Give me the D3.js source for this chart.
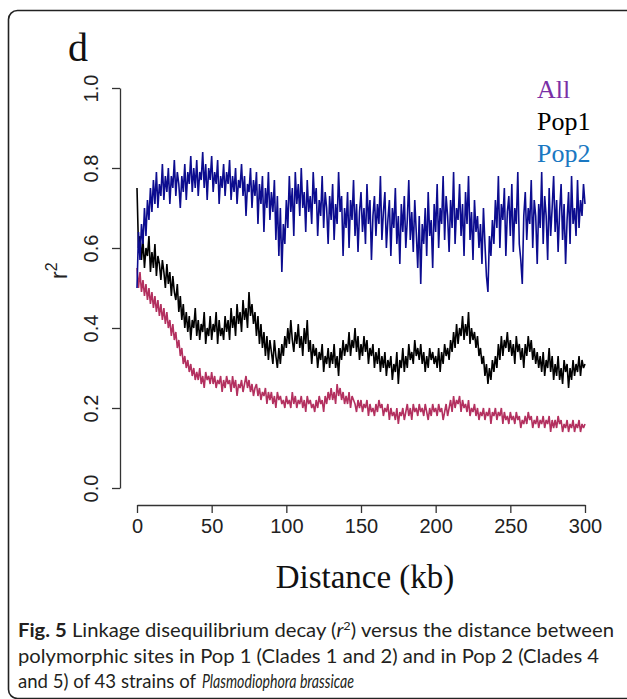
<!DOCTYPE html>
<html>
<head>
<meta charset="utf-8">
<script src="https://cdn.jsdelivr.net/npm/d3@7"></script>
<style>
  html, body { margin: 0; padding: 0; background: #fff; }
  svg { display: block; }
</style>
</head>
<body>
<svg id="chart" width="627" height="699"></svg>
<script>
// ---------------- data ----------------
// distance bins, 1 kb apart, 0..300 kb
const distanceKb = d3.range(0, 301);

// r^2 per 1-kb bin
const r2Pop2 = [
.50,.64,.57,.66,.61,.70,.63,.72,.67,.75,
.69,.77,.71,.79,.70,.76,.73,.81,.72,.78,
.74,.80,.71,.78,.75,.82,.73,.79,.76,.70,
.78,.74,.81,.72,.79,.76,.83,.74,.80,.75,
.82,.73,.79,.77,.84,.75,.81,.72,.80,.77,
.83,.74,.79,.76,.82,.71,.78,.75,.81,.73,
.79,.76,.82,.72,.78,.74,.80,.71,.77,.75,
.81,.73,.78,.68,.76,.74,.80,.70,.77,.73,
.79,.66,.76,.71,.78,.64,.75,.70,.79,.67,
.74,.69,.77,.62,.73,.58,.70,.54,.66,.61,
.72,.65,.78,.69,.75,.63,.79,.71,.76,.68,
.80,.70,.74,.64,.77,.69,.73,.66,.79,.71,
.75,.63,.72,.68,.78,.65,.74,.70,.61,.73,
.67,.76,.62,.71,.66,.79,.69,.73,.58,.70,
.65,.74,.60,.72,.67,.77,.63,.71,.59,.69,
.74,.64,.70,.61,.76,.66,.72,.57,.68,.73,
.63,.71,.66,.78,.62,.69,.74,.60,.67,.72,
.58,.70,.65,.75,.61,.68,.56,.71,.64,.73,
.60,.67,.77,.62,.69,.59,.72,.64,.55,.68,
.51,.66,.61,.70,.58,.74,.63,.67,.55,.71,
.64,.76,.60,.70,.66,.78,.62,.73,.68,.59,
.72,.65,.79,.61,.70,.67,.76,.63,.71,.58,
.74,.66,.78,.62,.69,.57,.72,.64,.68,.60,
.66,.56,.70,.61,.53,.49,.63,.58,.67,.61,
.72,.65,.78,.60,.71,.67,.75,.58,.69,.73,
.63,.76,.59,.70,.66,.79,.61,.57,.51,.68,
.74,.62,.70,.66,.77,.60,.72,.68,.56,.71,
.65,.79,.61,.73,.68,.57,.75,.63,.70,.78,
.64,.72,.59,.69,.76,.62,.71,.56,.67,.74,
.61,.78,.66,.70,.63,.77,.65,.72,.68,.76,
.71];

const r2Pop1 = [
.75,.60,.63,.57,.62,.55,.60,.58,.63,.54,
.59,.55,.61,.53,.58,.56,.52,.57,.54,.50,
.56,.51,.54,.48,.53,.49,.47,.51,.44,.48,
.42,.46,.40,.44,.39,.43,.37,.42,.40,.45,
.38,.42,.37,.41,.39,.44,.36,.40,.38,.43,
.37,.41,.39,.44,.36,.42,.38,.40,.37,.43,
.39,.42,.37,.45,.40,.43,.38,.46,.41,.44,
.39,.47,.42,.45,.40,.49,.43,.46,.41,.44,
.38,.43,.36,.41,.35,.39,.33,.38,.32,.37,
.34,.31,.37,.33,.30,.35,.31,.36,.33,.38,
.35,.40,.36,.42,.37,.34,.39,.36,.41,.35,
.38,.33,.40,.36,.42,.34,.37,.31,.36,.33,
.35,.30,.34,.32,.36,.29,.33,.31,.35,.30,
.34,.31,.36,.30,.33,.28,.35,.32,.37,.33,
.36,.34,.39,.33,.37,.35,.40,.34,.38,.32,
.36,.33,.38,.34,.37,.31,.35,.33,.36,.30,
.34,.31,.35,.29,.33,.30,.34,.28,.32,.30,
.33,.27,.31,.29,.34,.26,.32,.30,.35,.29,
.33,.30,.36,.32,.34,.31,.37,.33,.35,.32,
.36,.31,.34,.29,.33,.30,.35,.32,.34,.31,
.33,.30,.35,.29,.34,.31,.36,.33,.35,.32,
.37,.34,.39,.35,.41,.36,.40,.38,.43,.37,
.41,.38,.44,.36,.40,.37,.39,.35,.38,.33,
.35,.31,.33,.28,.31,.26,.30,.27,.32,.29,
.33,.30,.36,.32,.38,.33,.37,.35,.39,.34,
.37,.33,.36,.31,.38,.34,.36,.32,.35,.30,
.36,.33,.38,.34,.37,.32,.35,.31,.34,.30,
.33,.29,.34,.28,.32,.30,.35,.29,.33,.27,
.31,.28,.33,.27,.30,.26,.32,.29,.31,.25,
.30,.27,.32,.28,.31,.29,.33,.28,.32,.30,
.31];

const r2All = [
.55,.50,.54,.49,.52,.48,.51,.47,.50,.46,
.49,.45,.48,.44,.47,.43,.46,.42,.45,.41,
.44,.40,.42,.38,.41,.37,.39,.35,.37,.33,
.35,.31,.33,.30,.32,.29,.31,.28,.30,.27,
.29,.27,.30,.26,.28,.25,.29,.27,.28,.26,
.29,.26,.28,.25,.27,.26,.28,.24,.27,.25,
.28,.26,.27,.24,.28,.25,.27,.23,.26,.25,
.27,.24,.26,.28,.25,.27,.24,.26,.23,.25,
.26,.23,.25,.22,.24,.23,.25,.21,.24,.22,
.24,.21,.23,.20,.24,.22,.23,.21,.22,.20,
.23,.21,.22,.20,.24,.21,.23,.20,.22,.21,
.23,.20,.22,.19,.23,.21,.22,.20,.21,.19,
.22,.20,.23,.21,.22,.19,.23,.21,.24,.22,
.25,.22,.24,.21,.26,.23,.25,.22,.24,.21,
.23,.21,.24,.20,.23,.22,.21,.19,.22,.20,
.22,.19,.21,.20,.22,.18,.21,.19,.20,.18,
.21,.19,.22,.20,.21,.18,.20,.19,.21,.17,
.20,.18,.19,.17,.20,.16,.19,.18,.20,.17,
.19,.21,.18,.20,.17,.21,.19,.20,.18,.21,
.19,.20,.18,.21,.19,.17,.20,.18,.21,.19,
.20,.18,.21,.19,.20,.17,.19,.21,.18,.20,
.22,.19,.23,.20,.22,.21,.23,.19,.22,.20,
.21,.19,.22,.18,.20,.19,.21,.18,.20,.17,
.19,.18,.20,.17,.19,.18,.20,.16,.19,.18,
.20,.17,.19,.18,.20,.16,.19,.17,.18,.16,
.19,.17,.18,.16,.19,.17,.18,.15,.17,.16,
.18,.16,.19,.17,.18,.15,.17,.16,.18,.15,
.17,.16,.18,.15,.17,.16,.18,.14,.17,.15,
.17,.15,.18,.16,.17,.14,.16,.15,.17,.14,
.16,.15,.17,.14,.16,.15,.17,.14,.16,.15,
.16];

const seriesNames = ["All", "Pop1", "Pop2"];
const xTickValues = [0, 50, 100, 150, 200, 250, 300];
const yTickValues = [0.0, 0.2, 0.4, 0.6, 0.8, 1.0];

// ---------------- drawing ----------------
const svg = d3.select("#chart");

// rounded frame around the figure
svg.append("rect")
  .attr("x", 8.5).attr("y", 10.5)
  .attr("width", 700).attr("height", 688)
  .attr("rx", 9).attr("ry", 9)
  .attr("fill", "none").attr("stroke", "#222").attr("stroke-width", 1.6);

const x = d3.scaleLinear().domain([0, 300]).range([137, 585]);
const y = d3.scaleLinear().domain([0, 1]).range([488, 88]);

const seriesData = [
  { name: "All",  values: r2All,  line: "#b3305f" },
  { name: "Pop1", values: r2Pop1, line: "#000000" },
  { name: "Pop2", values: r2Pop2, line: "#0c0c8f" }
];
const legendColors = { All: "#7a2fa6", Pop1: "#000000", Pop2: "#1a78c2" };

const line = d3.line()
  .x((d, i) => x(distanceKb[i]))
  .y(d => y(d));

svg.append("g").selectAll("path")
  .data(seriesData)
  .join("path")
  .attr("d", s => line(s.values))
  .attr("fill", "none")
  .attr("stroke", s => s.line)
  .attr("stroke-width", 1.6)
  .attr("stroke-linejoin", "bevel");

// x axis
const xAxis = svg.append("g")
  .attr("transform", "translate(0,505)")
  .call(d3.axisBottom(x).tickValues(xTickValues).tickSize(8).tickSizeOuter(0).tickPadding(6));
xAxis.selectAll("path, line").attr("stroke", "#333").attr("stroke-width", 1.3);
xAxis.selectAll("text")
  .attr("font-family", "'Liberation Sans', Arial, sans-serif")
  .attr("font-size", 20).attr("fill", "#222");

// y axis
const yAxis = svg.append("g")
  .attr("transform", "translate(120,0)")
  .call(d3.axisLeft(y).tickValues(yTickValues).tickFormat(d3.format(".1f")).tickSize(8).tickSizeOuter(0));
yAxis.selectAll("path, line").attr("stroke", "#333").attr("stroke-width", 1.3);
yAxis.selectAll("text")
  .attr("transform", "rotate(-90)")
  .attr("x", 0).attr("y", -22).attr("dy", 0)
  .attr("text-anchor", "middle")
  .attr("font-family", "'Liberation Sans', Arial, sans-serif")
  .attr("font-size", 20).attr("fill", "#222");

// y label r^2
const yl = svg.append("text")
  .attr("transform", "translate(67,279) rotate(-90)")
  .attr("font-family", "'Liberation Sans', Arial, sans-serif")
  .attr("font-size", 23).attr("fill", "#222");
yl.append("tspan").text("r");
yl.append("tspan").attr("dy", -10).attr("font-size", 16).text("2");

// x label
svg.append("text")
  .attr("x", 365).attr("y", 588)
  .attr("text-anchor", "middle")
  .attr("font-family", "'Liberation Serif', 'Times New Roman', serif")
  .attr("font-size", 33).attr("fill", "#111")
  .text("Distance (kb)");

// panel letter
svg.append("text")
  .attr("x", 68).attr("y", 61)
  .attr("font-family", "'Liberation Serif', 'Times New Roman', serif")
  .attr("font-size", 40).attr("fill", "#111")
  .text("d");

// legend
svg.append("g").selectAll("text")
  .data(seriesNames)
  .join("text")
  .attr("x", 537)
  .attr("y", (d, i) => 98 + i * 32)
  .attr("font-family", "'Liberation Serif', 'Times New Roman', serif")
  .attr("font-size", 26)
  .attr("fill", d => legendColors[d])
  .text(d => d);

// caption
const capFont = "Lato, 'Open Sans', sans-serif";
const cap = svg.append("g")
  .attr("font-family", capFont).attr("font-size", 19).attr("fill", "#231f20");
const l1 = cap.append("text").attr("x", 18).attr("y", 637)
  .attr("textLength", 596).attr("lengthAdjust", "spacingAndGlyphs");
l1.append("tspan").attr("font-weight", "bold").text("Fig. 5");
l1.append("tspan").text(" Linkage disequilibrium decay (");
l1.append("tspan").attr("font-style", "italic").text("r");
l1.append("tspan").attr("dy", -7).attr("font-size", 12).text("2");
l1.append("tspan").attr("dy", 7).text(") versus the distance between");
cap.append("text").attr("x", 18).attr("y", 663)
  .attr("textLength", 581).attr("lengthAdjust", "spacingAndGlyphs")
  .text("polymorphic sites in Pop 1 (Clades 1 and 2) and in Pop 2 (Clades 4");
cap.append("text").attr("x", 18).attr("y", 688)
  .attr("textLength", 178).attr("lengthAdjust", "spacingAndGlyphs")
  .text("and 5) of 43 strains of");
cap.append("text").attr("x", 202).attr("y", 688)
  .attr("font-style", "italic")
  .attr("textLength", 152).attr("lengthAdjust", "spacingAndGlyphs")
  .text("Plasmodiophora brassicae");
</script>
</body>
</html>
